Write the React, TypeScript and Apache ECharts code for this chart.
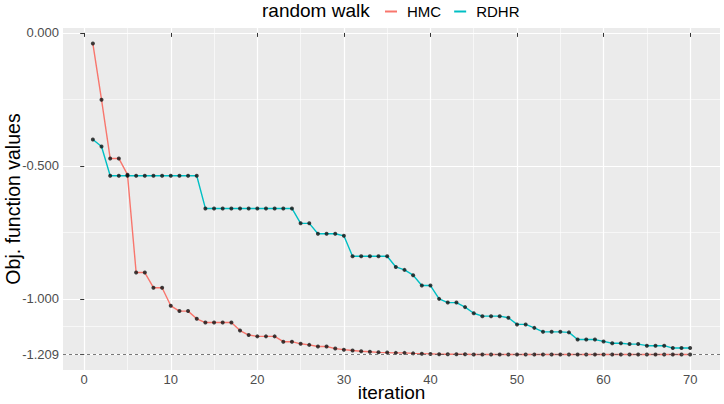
import { useEffect, useRef } from "react";
import * as echarts from "echarts";

// Iteration index of each sampler step
const iteration = [
  1, 2, 3, 4, 5, 6, 7, 8, 9, 10, 11, 12, 13, 14, 15, 16, 17, 18, 19, 20,
  21, 22, 23, 24, 25, 26, 27, 28, 29, 30, 31, 32, 33, 34, 35, 36, 37, 38, 39, 40,
  41, 42, 43, 44, 45, 46, 47, 48, 49, 50, 51, 52, 53, 54, 55, 56, 57, 58, 59, 60,
  61, 62, 63, 64, 65, 66, 67, 68, 69, 70,
];

// Best objective value found so far, HMC random walk
const hmc = [
  -0.04, -0.251, -0.472, -0.472, -0.533, -0.901, -0.901, -0.958, -0.958, -1.026,
  -1.046, -1.046, -1.075, -1.089, -1.089, -1.089, -1.089, -1.119, -1.136, -1.141,
  -1.141, -1.141, -1.161, -1.161, -1.169, -1.173, -1.179, -1.179, -1.187, -1.191,
  -1.194, -1.197, -1.199, -1.201, -1.202, -1.203, -1.203, -1.205, -1.206, -1.207,
  -1.208, -1.208, -1.208, -1.208, -1.209, -1.209, -1.209, -1.209, -1.209, -1.209,
  -1.209, -1.209, -1.209, -1.209, -1.209, -1.209, -1.209, -1.209, -1.209, -1.209,
  -1.209, -1.209, -1.209, -1.209, -1.209, -1.209, -1.209, -1.209, -1.209, -1.209,
];

// Best objective value found so far, RDHR random walk
const rdhr = [
  -0.401, -0.427, -0.537, -0.537, -0.537, -0.537, -0.537, -0.537, -0.537, -0.537,
  -0.537, -0.537, -0.537, -0.66, -0.66, -0.66, -0.66, -0.66, -0.66, -0.66,
  -0.66, -0.66, -0.66, -0.66, -0.716, -0.716, -0.755, -0.755, -0.755, -0.763,
  -0.84, -0.84, -0.84, -0.84, -0.84, -0.88, -0.891, -0.911, -0.95, -0.95,
  -1.0, -1.014, -1.014, -1.031, -1.054, -1.065, -1.065, -1.065, -1.071, -1.096,
  -1.096, -1.109, -1.124, -1.124, -1.124, -1.126, -1.153, -1.153, -1.153, -1.16,
  -1.167, -1.167, -1.17, -1.17, -1.176, -1.176, -1.176, -1.185, -1.185, -1.185,
];

// Known optimum, drawn as a dashed reference line
const optimum = -1.209;

const xBreaks = [0, 10, 20, 30, 40, 50, 60, 70];
const xMinorBreaks = [5, 15, 25, 35, 45, 55, 65];
const yBreaks = [0, -0.5, -1, -1.209];
const yMinorBreaks = [-0.25, -0.75, -1.1045];

const HMC_COLOR = "#F8766D";
const RDHR_COLOR = "#00BFC4";
const FONT = "'Liberation Sans', Arial, Helvetica, sans-serif";

// Continuous-scale limits padded by 5% of the data range on each side
function paddedRange(values: number[]): [number, number] {
  const lo = Math.min(...values);
  const hi = Math.max(...values);
  const pad = (hi - lo) * 0.05;
  return [lo - pad, hi + pad];
}

export default function App() {
  const ref = useRef<HTMLDivElement>(null);

  useEffect(() => {
    if (!ref.current) return;
    const chart = echarts.init(ref.current, undefined, { renderer: "svg" });

    const [xMin, xMax] = paddedRange(iteration);
    const [yMin, yMax] = paddedRange([...hmc, ...rdhr, optimum]);

    const hmcPts = iteration.map((x, i) => [x, hmc[i]]);
    const rdhrPts = iteration.map((x, i) => [x, rdhr[i]]);

    const minorAxis = {
      show: true,
      axisLine: { show: false },
      axisLabel: { show: false },
      splitLine: { show: true, lineStyle: { color: "#ffffff", width: 0.6 } },
    };

    chart.setOption({
      animation: false,
      backgroundColor: "#ffffff",
      textStyle: { fontFamily: FONT },
      title: {
        text: "random walk",
        left: 262,
        top: 1,
        padding: 0,
        textStyle: { fontSize: 19, fontWeight: "normal", color: "#000000", fontFamily: FONT },
      },
      legend: {
        data: ["HMC", "RDHR"],
        left: 385,
        top: 4,
        padding: 0,
        icon: "rect",
        itemWidth: 12,
        itemHeight: 2,
        itemGap: 13,
        textStyle: { fontSize: 15, color: "#000000", fontFamily: FONT, padding: [0, 0, 0, 5] },
      },
      grid: {
        left: 63,
        right: 4,
        top: 28,
        bottom: 34,
        outerBoundsMode: "none",
        containLabel: false,
        show: true,
        backgroundColor: "#EBEBEB",
        borderWidth: 0,
      },
      xAxis: [
        {
          type: "value",
          min: xMin,
          max: xMax,
          axisLine: { show: false },
          axisTick: {
            show: true,
            customValues: xBreaks,
            length: 4,
            lineStyle: { color: "#333333", width: 1 },
          },
          axisLabel: {
            customValues: xBreaks,
            color: "#4D4D4D",
            fontSize: 13,
            margin: 3,
            fontFamily: FONT,
          },
          splitLine: { show: true, lineStyle: { color: "#ffffff", width: 1.2 } },
          name: "iteration",
          nameLocation: "middle",
          nameGap: 13,
          nameMoveOverlap: false,
          nameTextStyle: { fontSize: 19, color: "#000000", fontFamily: FONT },
        },
        {
          type: "value",
          min: xMin,
          max: xMax,
          ...minorAxis,
          axisTick: { show: false, customValues: xMinorBreaks },
        },
      ],
      yAxis: [
        {
          type: "value",
          min: yMin,
          max: yMax,
          axisLine: { show: false },
          axisTick: {
            show: true,
            customValues: yBreaks,
            length: 4,
            lineStyle: { color: "#333333", width: 1 },
          },
          axisLabel: {
            customValues: yBreaks,
            color: "#4D4D4D",
            fontSize: 13,
            margin: 4,
            fontFamily: FONT,
            formatter: (v: number) => v.toFixed(3),
          },
          splitLine: { show: true, lineStyle: { color: "#ffffff", width: 1.2 } },
          name: "Obj. function values",
          nameLocation: "middle",
          nameGap: 40,
          nameRotate: 90,
          nameMoveOverlap: false,
          nameTextStyle: { fontSize: 19.5, color: "#000000", fontFamily: FONT },
        },
        {
          type: "value",
          min: yMin,
          max: yMax,
          ...minorAxis,
          axisTick: { show: false, customValues: yMinorBreaks },
        },
      ],
      series: [
        {
          name: "HMC",
          type: "line",
          data: hmcPts,
          showSymbol: false,
          lineStyle: { color: HMC_COLOR, width: 1.4 },
          itemStyle: { color: HMC_COLOR },
          z: 3,
          markLine: {
            silent: true,
            symbol: "none",
            label: { show: false },
            lineStyle: { type: [3, 3], color: "#555555", width: 0.8 },
            data: [{ yAxis: optimum }],
          },
        },
        {
          name: "RDHR",
          type: "line",
          data: rdhrPts,
          showSymbol: false,
          lineStyle: { color: RDHR_COLOR, width: 1.4 },
          itemStyle: { color: RDHR_COLOR },
          z: 3,
        },
        {
          name: "HMC points",
          type: "scatter",
          data: hmcPts,
          symbol: "circle",
          symbolSize: 4,
          itemStyle: { color: "#111111" },
          z: 4,
        },
        {
          name: "RDHR points",
          type: "scatter",
          data: rdhrPts,
          symbol: "circle",
          symbolSize: 4,
          itemStyle: { color: "#111111" },
          z: 4,
        },
      ],
    });

    return () => chart.dispose();
  }, []);

  return (
    <div
      ref={ref}
      style={{ position: "fixed", left: 0, top: 0, width: 724, height: 404 }}
    />
  );
}
